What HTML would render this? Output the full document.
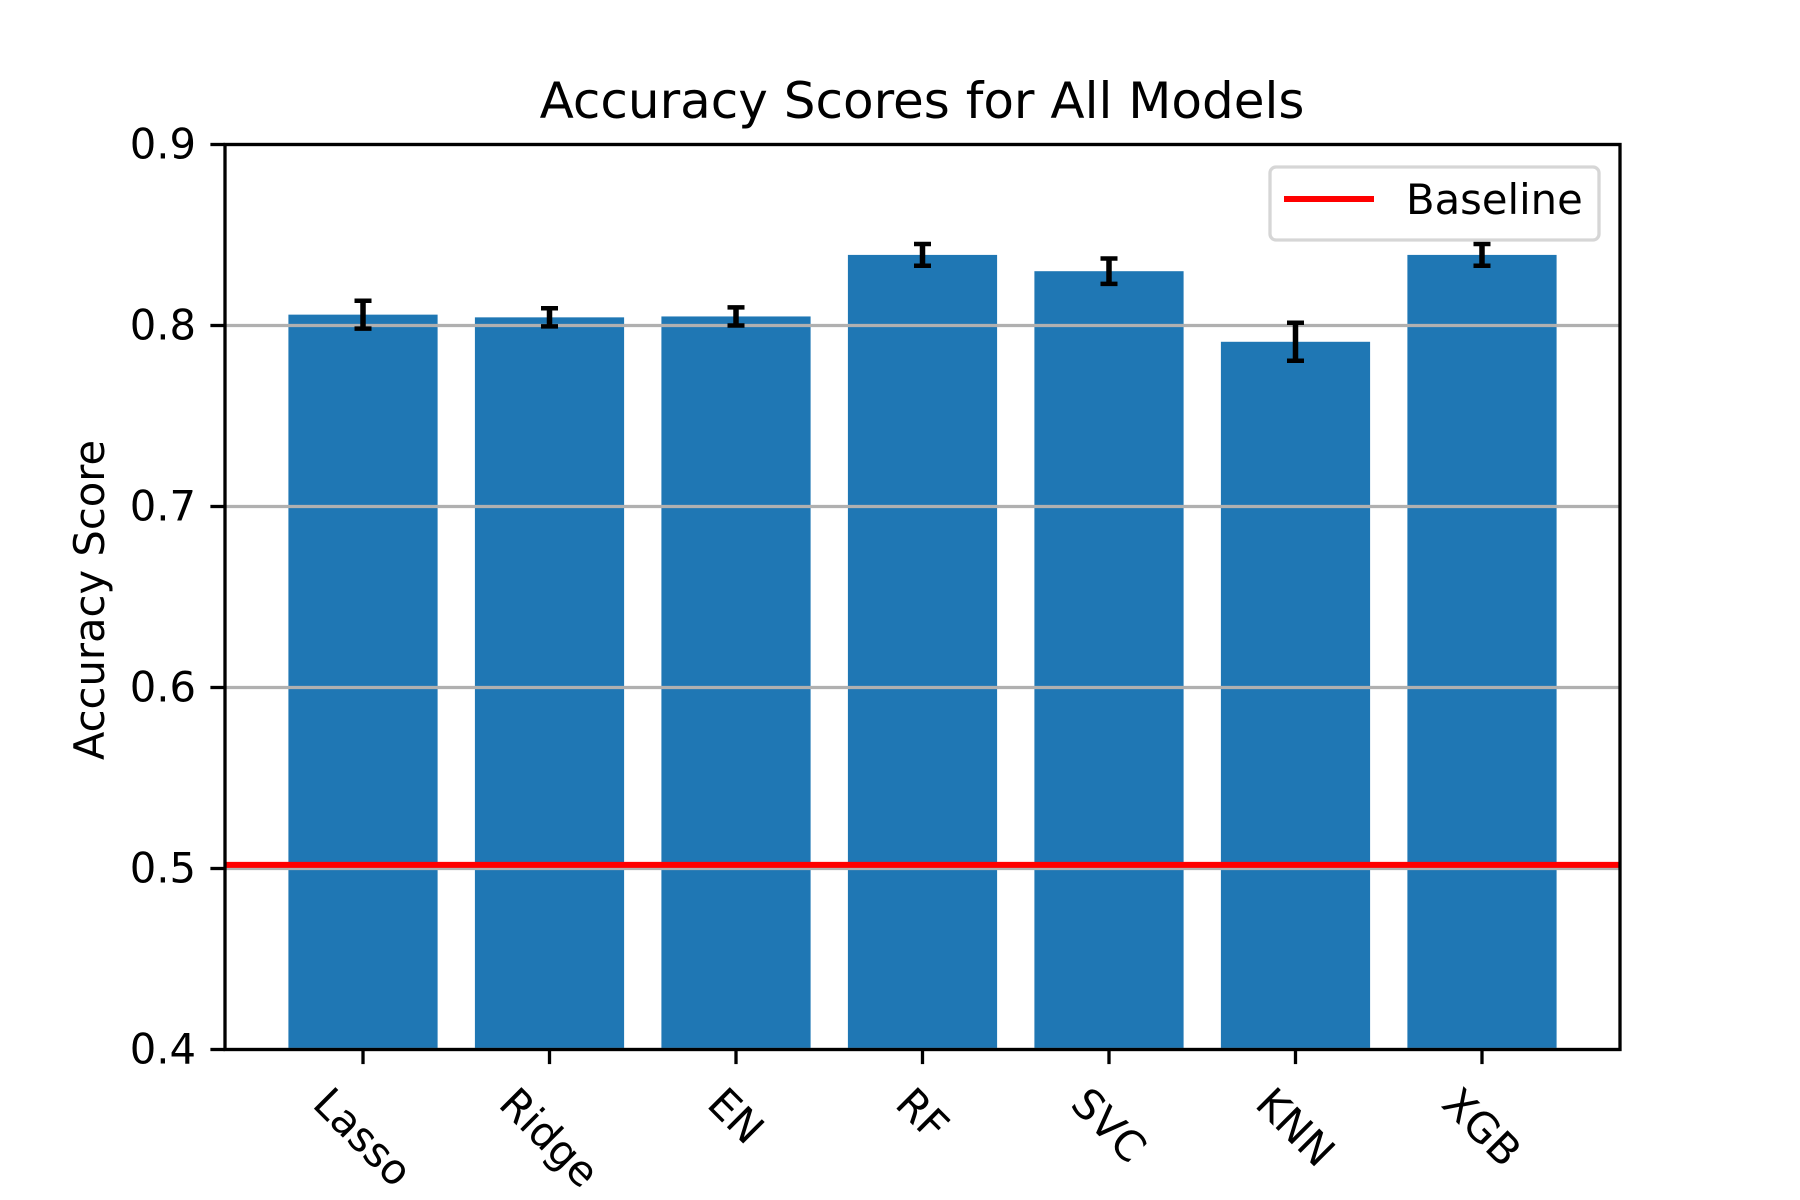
<!DOCTYPE html>
<html><head><meta charset="utf-8"><style>
html,body{margin:0;padding:0;background:#fff;}
svg{display:block;font-family:"DejaVu Sans","Liberation Sans",sans-serif;}
</style></head><body>
<svg id="chart" width="1800" height="1200" viewBox="0 0 1800 1200" xmlns="http://www.w3.org/2000/svg">
<rect width="1800" height="1200" fill="#fff"/>
<text x="922" y="118" font-size="50" text-anchor="middle">Accuracy Scores for All Models</text>
<text transform="translate(104,600) rotate(-90)" font-size="41.7" text-anchor="middle">Accuracy Score</text>
<g id="grid"></g><g id="bars"></g><g id="gridtop"></g><g id="errs"></g><g id="base"></g><g id="axes"></g><g id="legend"></g>
</svg>
<script>
const categories = ["Lasso","Ridge","EN","RF","SVC","KNN","XGB"];
const scores = [0.806, 0.8045, 0.805, 0.839, 0.830, 0.791, 0.839];
const errors = [0.0077, 0.005, 0.005, 0.006, 0.007, 0.0105, 0.006];
const baseline = 0.502;
const yTicks = [0.4, 0.5, 0.6, 0.7, 0.8, 0.9];
const yTickLabels = ["0.4","0.5","0.6","0.7","0.8","0.9"];

const L=225, R=1620, T=144.5, B=1049.5;
const yMin=0.4, yMax=0.9, xMin=-0.74, xMax=categories.length-1+0.74;
const y = v => B - (v - yMin)/(yMax - yMin)*(B - T);
const x = i => L + (i - xMin)/(xMax - xMin)*(R - L);
const bw = 0.8*(R-L)/(xMax-xMin);
const NS="http://www.w3.org/2000/svg";
function mk(tag, attrs, parent){const e=document.createElementNS(NS,tag);for(const k in attrs)e.setAttribute(k,attrs[k]);document.getElementById(parent).appendChild(e);return e;}

categories.forEach((c,i)=>{
  const r=mk('rect',{x:x(i)-bw/2,y:y(scores[i]),width:bw,height:B-y(scores[i]),fill:'#1f77b4'},'bars');
  
  
});
yTicks.forEach((t,i)=>{
  const g=mk('line',{x1:L,x2:R,y1:y(t),y2:y(t),stroke:'#b0b0b0','stroke-width':3.3},'gridtop');
  
  
  mk('line',{x1:L-14.6,x2:L,y1:y(t),y2:y(t),stroke:'#000','stroke-width':3.3},'axes');
  const tx=mk('text',{x:L-29,y:y(t)+14,'font-size':41.7,'text-anchor':'end'},'axes');
  tx.textContent=yTickLabels[i];
  
  
});
categories.forEach((c,i)=>{
  const cx=x(i), lo=y(scores[i]-errors[i]), hi=y(scores[i]+errors[i]);
  const e=mk('line',{x1:cx,x2:cx,y1:hi,y2:lo,stroke:'#000','stroke-width':5.5},'errs');
  
  
  mk('line',{x1:cx-8.5,x2:cx+8.5,y1:hi,y2:hi,stroke:'#000','stroke-width':4.5},'errs');
  mk('line',{x1:cx-8.5,x2:cx+8.5,y1:lo,y2:lo,stroke:'#000','stroke-width':4.5},'errs');
  mk('line',{x1:cx,x2:cx,y1:B,y2:B+14.6,stroke:'#000','stroke-width':3.3},'axes');
  const t=mk('text',{'font-size':41.7,'text-anchor':'middle',dy:'0.35em'},'axes');
  t.textContent=c;
  
  
  const w=t.getComputedTextLength();
  const h=(w+48)*0.7071;
  t.setAttribute('transform',`translate(${cx},${B+29+h/2}) rotate(45)`);
});
const bl=mk('line',{x1:L,x2:R,y1:y(baseline),y2:y(baseline),stroke:'#ff0000','stroke-width':6},'base');


const fr=mk('rect',{x:L,y:T,width:R-L,height:B-T,fill:'none',stroke:'#000','stroke-width':3.3},'axes');


const lb=mk('rect',{x:1270,y:167,width:329,height:73,rx:6,fill:'#fff',stroke:'#d6d6d6','stroke-width':3.3},'legend');


mk('line',{x1:1284,x2:1374,y1:199,y2:199,stroke:'#ff0000','stroke-width':6},'legend');
const lt=mk('text',{x:1406,y:214,'font-size':41.7},'legend');
lt.textContent='Baseline';


</script>
</body></html>
